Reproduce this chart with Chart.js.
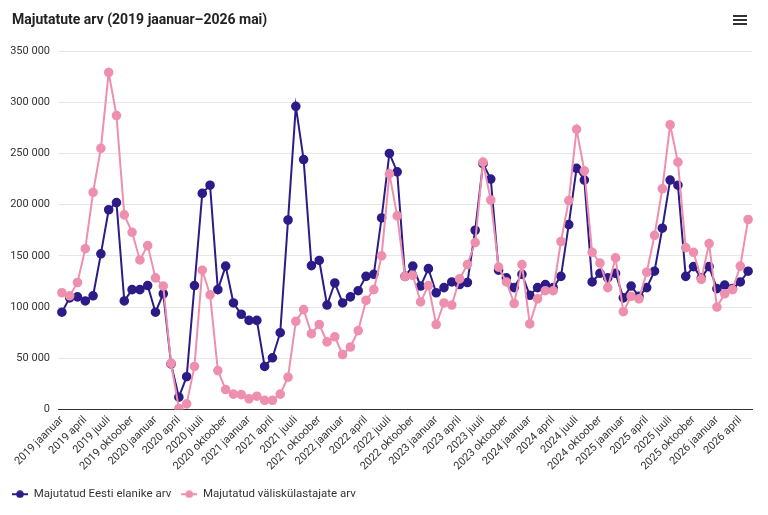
<!DOCTYPE html>
<html lang="et">
<head>
  <meta charset="UTF-8">
  <title>Majutatute arv</title>
  <script src="https://cdn.jsdelivr.net/npm/chart.js"></script>
  <style>
    body { margin: 0; background: #fff; font-family: Roboto, sans-serif; }
    #wrap { position: relative; width: 768px; height: 515px; }
    #title { position: absolute; left: 12px; top: 11px; font-size: 14px; font-weight: bold; color: #222; }
    #menu { position: absolute; left: 733px; top: 15px; width: 14px; }
    #menu span { display: block; height: 2px; background: #333; margin-bottom: 2px; }
  </style>
</head>
<body>
  <div id="wrap">
    <div id="title">Majutatute arv (2019 jaanuar–2026 mai)</div>
    <div id="menu"><span></span><span></span><span></span></div>
    <canvas id="chart"></canvas>
  </div>

  <script>
    const years = [2019, 2020, 2021, 2022, 2023, 2024, 2025, 2026];
    const months = ['jaanuar', 'veebruar', 'märts', 'april', 'mai', 'juuni',
                    'juuli', 'august', 'september', 'oktoober', 'november', 'detsember'];

    // 2019 jaanuar .. 2026 mai
    const labels = [];
    years.forEach(y => months.forEach((m, i) => {
      if (y < 2026 || i < 5) labels.push(y + ' ' + m);
    }));

    const eesti = [
      95000, 109000, 110000, 106000, 111000, 152000, 195000, 202000, 106000, 117000, 117000, 121000,
      95000, 113000, 44500, 12000, 32000, 121000, 211000, 219000, 117000, 140000, 104000, 93000,
      87000, 87000, 42000, 50500, 75000, 185000, 296000, 244000, 140500, 145500, 102000, 123500,
      104000, 110000, 116000, 130000, 132000, 187000, 250000, 232000, 130000, 140000, 120500, 137500,
      114000, 119000, 124500, 122000, 124000, 175000, 240000, 225000, 136000, 128500, 119000, 132000,
      111500, 119000, 122000, 119000, 130000, 180500, 235500, 224000, 124500, 133000, 128500, 133000,
      109000, 120500, 110500, 119000, 135000, 177000, 224000, 219000, 130000, 139500, 128500, 139500,
      118000, 121500, 118000, 124500, 135000
    ];

    const valis = [
      114000, 111000, 124000, 157000, 212000, 255000, 329000, 287000, 190000, 173000, 146000, 160000,
      128500, 120500, 45000, 1000, 5500, 42000, 136000, 112000, 38000, 19500, 15000, 14500,
      10500, 13000, 9000, 9000, 15000, 31500, 86000, 97500, 74000, 83000, 66000, 71000,
      53700, 61000, 77000, 106500, 117000, 150000, 230000, 189000, 130000, 131000, 105000, 121000,
      83000, 104000, 102000, 127500, 141500, 163000, 241500, 204500, 139000, 124500, 103500, 141500,
      83500, 108000, 116000, 116000, 164000, 204000, 273500, 233000, 153500, 143000, 119000, 148000,
      95500, 110500, 108000, 134000, 170000, 215500, 278000, 241500, 158000, 153500, 127000, 162000,
      100000, 113000, 117000, 140000, 185500
    ];

    const blue = '#2d1b87';
    const pink = '#ee8fae';

    // line + dot symbol for the legend
    function legendSymbol(color) {
      const c = document.createElement('canvas');
      c.width = 16; c.height = 8;
      const g = c.getContext('2d');
      g.strokeStyle = color; g.lineWidth = 2;
      g.beginPath(); g.moveTo(0, 4); g.lineTo(16, 4); g.stroke();
      g.fillStyle = color;
      g.beginPath(); g.arc(8, 4, 3.8, 0, Math.PI * 2); g.fill();
      return c;
    }
    const symbols = [legendSymbol(blue), legendSymbol(pink)];

    const fmt = v => String(v).replace(/\B(?=(\d{3})+(?!\d))/g, ' ');

    new Chart(document.getElementById('chart'), {
      type: 'line',
      data: {
        labels: labels,
        datasets: [{
          label: 'Majutatud Eesti elanike arv',
          data: eesti,
          borderColor: blue,
          backgroundColor: blue,
          pointRadius: 3.8,
          pointHoverRadius: 4.5,
          borderWidth: 2,
          order: 1
        }, {
          label: 'Majutatud väliskülastajate arv',
          data: valis,
          borderColor: pink,
          backgroundColor: pink,
          pointRadius: 3.8,
          pointHoverRadius: 4.5,
          borderWidth: 2,
          order: 0
        }]
      },
      options: {
        responsive: true,
        maintainAspectRatio: false,
        animation: false,
        layout: { padding: { left: 2, right: 16, top: 51, bottom: 5 } },
        scales: {
          x: {
            offset: true,
            grid: { display: false, drawTicks: false },
            border: { color: '#333', width: 1 },
            ticks: {
              autoSkip: false,
              minRotation: 45,
              maxRotation: 45,
              padding: 4,
              color: '#333',
              font: { family: 'Roboto', size: 11 },
              callback: function(v, i) { return i % 3 === 0 ? labels[i] : ''; }
            },
            afterFit: s => { s.height = 69; }
          },
          y: {
            min: 0,
            max: 350000,
            grid: { color: '#e6e6e6', drawTicks: false },
            border: { display: false },
            ticks: {
              stepSize: 50000,
              padding: 8,
              color: '#333',
              font: { family: 'Roboto', size: 11 },
              callback: v => fmt(v)
            },
            afterFit: s => { s.width = 56; }
          }
        },
        plugins: {
          legend: {
            position: 'bottom',
            align: 'start',
            labels: {
              usePointStyle: true,
              pointStyleWidth: 16,
              padding: 10,
              color: '#333',
              font: { family: 'Roboto', size: 11.5 },
              generateLabels: chart => {
                const items = Chart.defaults.plugins.legend.labels.generateLabels(chart);
                items.forEach(it => { it.pointStyle = symbols[it.datasetIndex]; });
                return items;
              },
              sort: (a, b) => a.datasetIndex - b.datasetIndex
            }
          },
          tooltip: { mode: 'index', intersect: false }
        }
      }
    });
  </script>
</body>
</html>
